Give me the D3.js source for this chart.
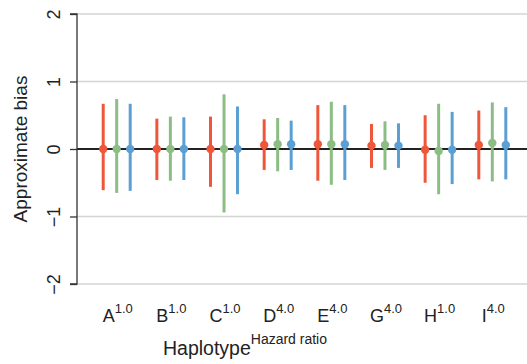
<!DOCTYPE html>
<html>
<head>
<meta charset="utf-8">
<script src="https://cdn.jsdelivr.net/npm/d3@7"></script>
<style>
  body { margin: 0; background: #fff; }
  text { font-family: "Liberation Sans", Arial, sans-serif; fill: #222; }
</style>
</head>
<body>
<div id="chart"></div>
<script>
// haplotypes and their hazard ratios
const haplotypes = ['A', 'B', 'C', 'D', 'E', 'G', 'H', 'I'];
const hazardRatios = ['1.0', '1.0', '1.0', '4.0', '4.0', '4.0', '1.0', '4.0'];
const methods = ['m1', 'm2', 'm3'];
const colors = ['#f0563a', '#8cbd84', '#5b9fd3'];
const yTicks = [-2, -1, 0, 1, 2];

// point estimate, lower and upper per method
const est1 = [0.00, 0.00, 0.00, 0.06, 0.07, 0.05, -0.01, 0.06];
const lo1  = [-0.61, -0.46, -0.56, -0.31, -0.47, -0.28, -0.50, -0.45];
const hi1  = [0.67, 0.45, 0.48, 0.44, 0.65, 0.37, 0.50, 0.57];
const est2 = [0.00, 0.00, 0.00, 0.07, 0.07, 0.06, -0.03, 0.09];
const lo2  = [-0.65, -0.47, -0.94, -0.33, -0.53, -0.31, -0.67, -0.48];
const hi2  = [0.74, 0.48, 0.81, 0.46, 0.70, 0.41, 0.67, 0.69];
const est3 = [0.00, 0.00, 0.00, 0.07, 0.07, 0.05, -0.01, 0.06];
const lo3  = [-0.62, -0.46, -0.67, -0.31, -0.46, -0.28, -0.52, -0.45];
const hi3  = [0.67, 0.47, 0.63, 0.42, 0.65, 0.38, 0.55, 0.62];

const ests = [est1, est2, est3], los = [lo1, lo2, lo3], his = [hi1, hi2, hi3];

const width = 527, height = 364;
const mLeft = 77, mRight = 527, mTop = 14, mBottom = 284;

const svg = d3.select('#chart').append('svg')
  .attr('width', width).attr('height', height);

const y = d3.scaleLinear().domain([-2, 2]).range([mBottom, mTop]);
const x = d3.scalePoint().domain(haplotypes).range([116.7, 492.3]);
const off = d3.scalePoint().domain(methods).range([-13.5, 13.5]);

// grid
svg.append('g').selectAll('line')
  .data(yTicks.filter(d => d !== 0))
  .enter().append('line')
  .attr('x1', mLeft).attr('x2', mRight)
  .attr('y1', d => y(d)).attr('y2', d => y(d))
  .attr('stroke', '#d4d4d4').attr('stroke-width', 1.5);

// zero line
svg.append('line')
  .attr('x1', mLeft).attr('x2', mRight)
  .attr('y1', y(0)).attr('y2', y(0))
  .attr('stroke', '#222').attr('stroke-width', 1.8);

// y axis
const yAxis = svg.append('g')
  .attr('transform', `translate(${mLeft},0)`)
  .call(d3.axisLeft(y).tickValues(yTicks).tickSize(7).tickPadding(7)
    .tickFormat(d => d < 0 ? '\u2212' + Math.abs(d) : d));
yAxis.select('.domain').attr('d', `M-7,${mTop}H0V${mBottom}H-7`).attr('stroke', '#333').attr('stroke-width', 1.3);
yAxis.selectAll('.tick line').attr('stroke', '#333').attr('stroke-width', 1.3);
yAxis.selectAll('.tick text')
  .attr('font-size', 18).attr('fill', '#222')
  .attr('font-family', '"Liberation Sans", Arial, sans-serif')
  .attr('text-anchor', 'middle').attr('dy', null)
  .attr('x', 0).attr('y', 0)
  .attr('transform', 'translate(-17,0) rotate(-90)');

svg.append('text')
  .attr('transform', `translate(27,${(mTop + mBottom) / 2}) rotate(-90)`)
  .attr('text-anchor', 'middle')
  .attr('font-size', 19)
  .text('Approximate bias');

// error bars and points
methods.forEach((m, k) => {
  const g = svg.append('g');
  const rows = haplotypes.map((h, i) => ({ h, est: ests[k][i], lo: los[k][i], hi: his[k][i] }));
  g.selectAll('line').data(rows).enter().append('line')
    .attr('x1', d => x(d.h) + off(m)).attr('x2', d => x(d.h) + off(m))
    .attr('y1', d => y(d.lo)).attr('y2', d => y(d.hi))
    .attr('stroke', colors[k]).attr('stroke-width', 3);
  g.selectAll('circle').data(rows).enter().append('circle')
    .attr('cx', d => x(d.h) + off(m)).attr('cy', d => y(d.est))
    .attr('r', 4.2).attr('fill', colors[k]);
});

// x labels with superscripts
const xl = svg.append('g').selectAll('text')
  .data(haplotypes).enter().append('text')
  .attr('x', (d, i) => x(d) + 1).attr('y', 322)
  .attr('text-anchor', 'middle')
  .attr('font-size', 18);
xl.append('tspan').text(d => d);
xl.append('tspan').attr('dy', -9).attr('font-size', 13)
  .text((d, i) => hazardRatios[i]);

const xt = svg.append('text')
  .attr('x', 245).attr('y', 355)
  .attr('text-anchor', 'middle')
  .attr('font-size', 19.5);
xt.append('tspan').text('Haplotype');
xt.append('tspan').attr('dy', -11).attr('font-size', 14).text('Hazard ratio');
</script>
</body>
</html>
